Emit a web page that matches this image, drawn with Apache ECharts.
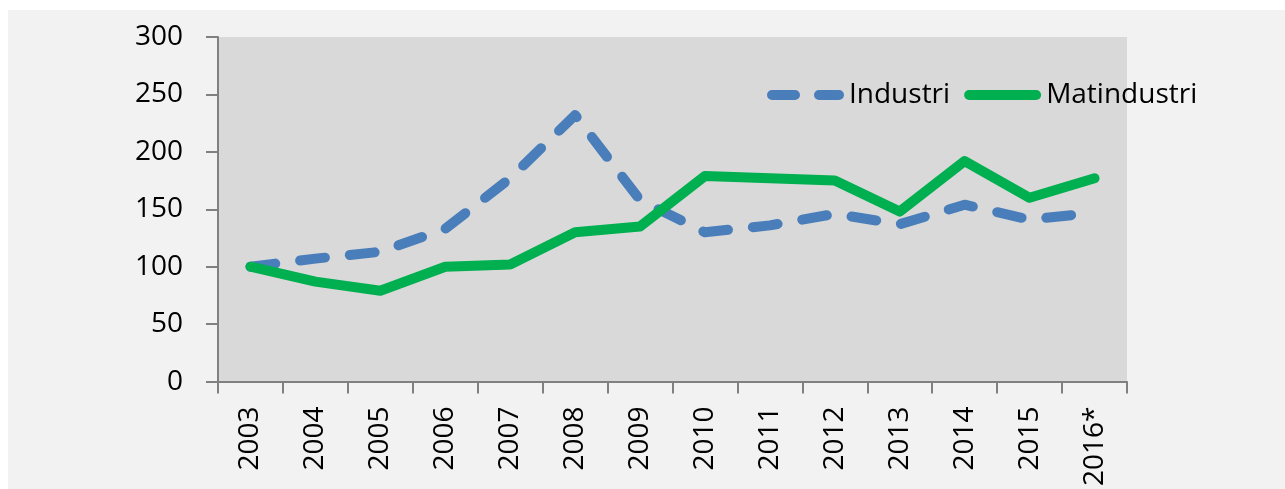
<!DOCTYPE html>
<html>
<head>
<meta charset="utf-8">
<script src="https://cdn.jsdelivr.net/npm/echarts@6/dist/echarts.min.js"></script>
<style>
  html, body { margin: 0; padding: 0; background: #ffffff; }
  #main { position: absolute; left: 8px; top: 10px; width: 1277px; height: 479px; background: #f2f2f2; }
</style>
</head>
<body>
<div id="main"></div>
<script>
// 年份（x轴）
var years = ['2003', '2004', '2005', '2006', '2007', '2008', '2009', '2010', '2011', '2012', '2013', '2014', '2015', '2016*'];
// 指数，2003 = 100
var industri = [100, 107, 113, 133, 177, 232, 158, 130, 136, 146, 137, 154, 141, 147];
var matindustri = [100, 87, 79, 100, 102, 130, 135, 179, 177, 175, 148, 192, 160, 177];

var myChart = echarts.init(document.getElementById('main'));
var font = 'Open Sans';
var blue = '#4a7ebb';
var green = '#00b050';

// 图例图标：圆头粗线
var iconDash = 'path://M5,0 L28,0 A5,5 0 0 1 28,10 L5,10 A5,5 0 0 1 5,0 Z M52,0 L72,0 A5,5 0 0 1 72,10 L52,10 A5,5 0 0 1 52,0 Z';
var iconSolid = 'path://M5,0 L72,0 A5,5 0 0 1 72,10 L5,10 A5,5 0 0 1 5,0 Z';

var option = {
    animation: false,
    backgroundColor: 'transparent',
    grid: {
        left: 210,
        right: 158,
        top: 27,
        bottom: 106,
        show: true,
        backgroundColor: '#d9d9d9',
        borderWidth: 0
    },
    legend: {
        left: 759,
        top: 70,
        padding: 0,
        itemGap: 14,
        itemWidth: 77,
        itemHeight: 10,
        textStyle: { fontFamily: font, fontSize: 28, color: '#000', lineHeight: 30 },
        data: [
            { name: 'Industri', icon: iconDash, itemStyle: { color: blue, borderWidth: 0 }, lineStyle: { width: 0 } },
            { name: 'Matindustri', icon: iconSolid, itemStyle: { color: green, borderWidth: 0 }, lineStyle: { width: 0 } }
        ]
    },
    xAxis: {
        type: 'category',
        data: years,
        boundaryGap: true,
        axisLine: { show: true, lineStyle: { color: '#808080', width: 2 } },
        axisTick: { show: true, length: 12, lineStyle: { color: '#808080', width: 2 } },
        axisLabel: { rotate: 90, margin: 25, fontFamily: font, fontSize: 28, color: '#000' },
        splitLine: { show: false }
    },
    yAxis: {
        type: 'value',
        min: 0,
        max: 300,
        interval: 50,
        axisLine: { show: true, lineStyle: { color: '#808080', width: 2 } },
        axisTick: { show: true, length: 12, lineStyle: { color: '#808080', width: 2 } },
        axisLabel: { margin: 35, fontFamily: font, fontSize: 28, color: '#000' },
        splitLine: { show: false }
    },
    series: [
        {
            name: 'Industri',
            type: 'line',
            data: industri,
            symbol: 'none',
            lineStyle: { color: blue, width: 10, type: [25, 25], cap: 'round', join: 'round' },
            itemStyle: { color: blue }
        },
        {
            name: 'Matindustri',
            type: 'line',
            data: matindustri,
            symbol: 'none',
            lineStyle: { color: green, width: 10, cap: 'round', join: 'round' },
            itemStyle: { color: green }
        }
    ]
};

myChart.setOption(option);
</script>
</body>
</html>
